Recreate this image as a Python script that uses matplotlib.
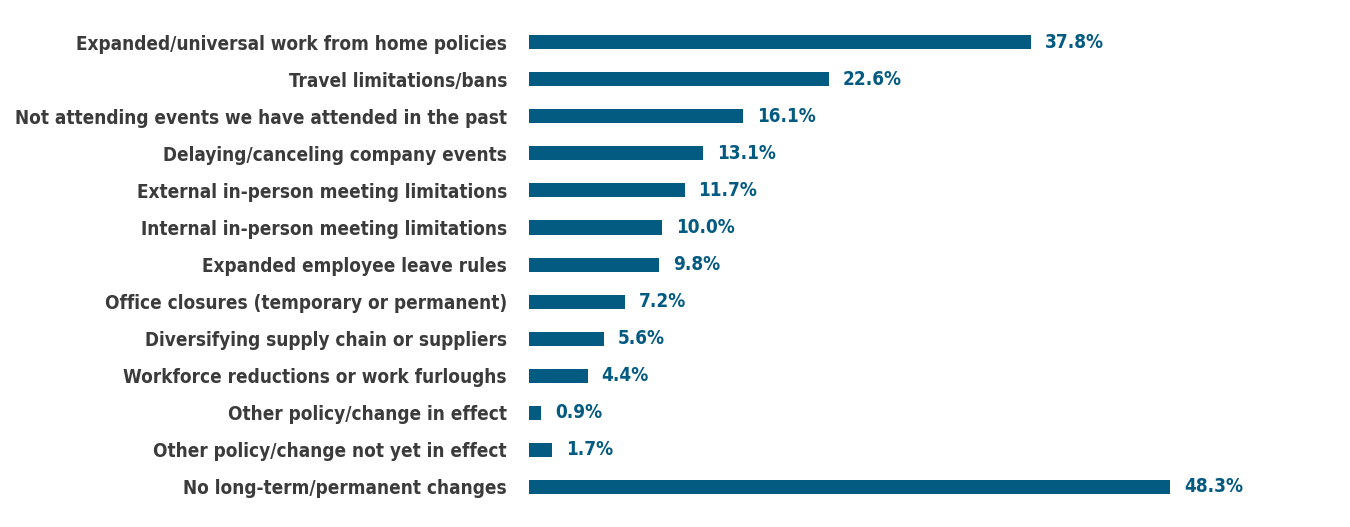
import matplotlib
matplotlib.use("Agg")
import matplotlib.pyplot as plt

categories = [
    "Expanded/universal work from home policies",
    "Travel limitations/bans",
    "Not attending events we have attended in the past",
    "Delaying/canceling company events",
    "External in-person meeting limitations",
    "Internal in-person meeting limitations",
    "Expanded employee leave rules",
    "Office closures (temporary or permanent)",
    "Diversifying supply chain or suppliers",
    "Workforce reductions or work furloughs",
    "Other policy/change in effect",
    "Other policy/change not yet in effect",
    "No long-term/permanent changes",
]
values = [37.8, 22.6, 16.1, 13.1, 11.7, 10.0, 9.8, 7.2, 5.6, 4.4, 0.9, 1.7, 48.3]

bar_color = "#045b82"
label_color = "#3b3b3b"
fonts = ["Liberation Sans Narrow", "DejaVu Sans"]

fig = plt.figure(figsize=(13.5, 5.27), dpi=100)
ax = fig.add_axes([0.392, 0.041, 0.59, 0.914])

y = list(range(len(categories)))
ax.barh(y, values, height=0.38, color=bar_color)
ax.set_ylim(len(categories) - 0.5, -0.5)
ax.set_xlim(0, 60)

ax.set_yticks(y)
ax.set_yticklabels(categories)
ax.tick_params(axis="y", length=0, pad=16)
ax.set_xticks([])
for s in ax.spines.values():
    s.set_visible(False)

# fit font size so the longest label is about as wide as in the original
fs = 15
for t in ax.get_yticklabels():
    t.set_fontsize(fs)
    t.set_fontweight("bold")
    t.set_fontstretch("condensed")
    t.set_color(label_color)
    t.set_family(fonts)
r = fig.canvas.get_renderer()
w = max(t.get_window_extent(r).width for t in ax.get_yticklabels())
fs = fs * 493 / w
for t in ax.get_yticklabels():
    t.set_fontsize(fs)

for yi, v in zip(y, values):
    ax.annotate(f"{v:.1f}%", (v, yi), xytext=(10, 0), textcoords="offset points",
                va="center", ha="left", fontsize=fs, fontweight="bold",
                fontstretch="condensed", color=bar_color, family=fonts)

fig.savefig("out.png", dpi=100)
